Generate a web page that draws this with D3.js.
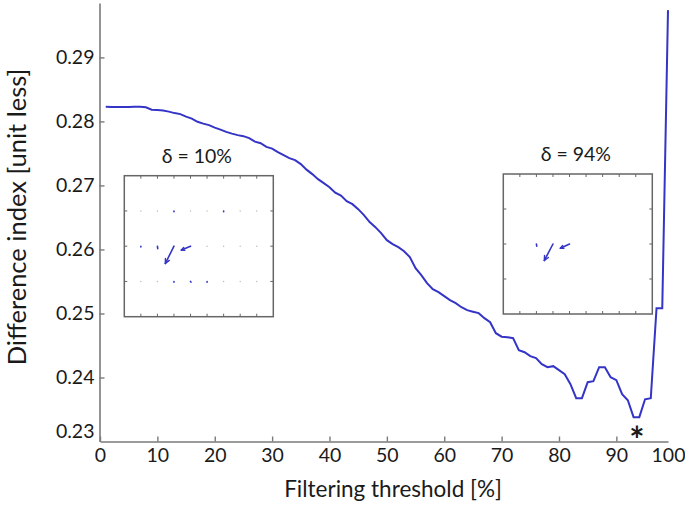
<!DOCTYPE html>
<html><head><meta charset="utf-8">
<script src="https://cdn.jsdelivr.net/npm/d3@7"></script>
<style>
body{margin:0;background:#fff}
svg{display:block}
text{font-family:Lato,"Open Sans","DejaVu Sans",sans-serif;fill:#1a1a1a}
</style>
</head><body>
<svg id="chart" width="685" height="505"></svg>
<script>
// ---------- data ----------
const thresholds = [1,2,3,4,5,6,7,8,9,10,11,12,13,14,15,16,17,18,19,20,
  21,22,23,24,25,26,27,28,29,30,31,32,33,34,35,36,37,38,39,40,
  41,42,43,44,45,46,47,48,49,50,51,52,53,54,55,56,57,58,59,60,
  61,62,63,64,65,66,67,68,69,70,71,72,73,74,75,76,77,78,79,80,
  81,82,83,84,85,86,87,88,89,90,91,92,93,94,95,96,97,98,99];
const differenceIndex = [
  0.28228,0.28226,0.28226,0.28226,0.28226,0.28228,0.28228,0.28220,0.28184,0.28177,
  0.28170,0.28153,0.28130,0.28114,0.28075,0.28044,0.27994,0.27966,0.27942,0.27903,
  0.27872,0.27837,0.27809,0.27786,0.27770,0.27739,0.27684,0.27660,0.27603,0.27575,
  0.27520,0.27473,0.27427,0.27395,0.27333,0.27247,0.27177,0.27098,0.27036,0.26973,
  0.26888,0.26841,0.26755,0.26708,0.26630,0.26536,0.26427,0.26348,0.26255,0.26145,
  0.26083,0.26036,0.25973,0.25880,0.25708,0.25598,0.25473,0.25380,0.25333,0.25270,
  0.25208,0.25161,0.25098,0.25052,0.25028,0.25005,0.24927,0.24864,0.24692,0.24637,
  0.24630,0.24614,0.24427,0.24395,0.24333,0.24302,0.24208,0.24160,0.24177,0.24114,
  0.24052,0.23895,0.23677,0.23677,0.23927,0.23942,0.24160,0.24160,0.24005,0.23958,
  0.23740,0.23645,0.23380,0.23380,0.23660,0.23677,0.25083,0.25083,0.29739];
const xTickValues = [0,10,20,30,40,50,60,70,80,90,99];
const xTickLabels = ["0","10","20","30","40","50","60","70","80","90","100"];
const yTickValues = [0.23,0.24,0.25,0.26,0.27,0.28,0.29];
const yTickLabels = ["0.23","0.24","0.25","0.26","0.27","0.28","0.29"];
const xLabel = "Filtering threshold [%]";
const yLabel = "Difference index [unit less]";
const bestThreshold = 94;
const insetTitles = ["δ = 10%", "δ = 94%"];
// quiver vectors: column, row, u (columns), v (rows, downward)
const quiverLeft = [
  {c:3,r:1,u:0,v:0.02},{c:6,r:1,u:0,v:0.02},
  {c:1,r:2,u:0,v:0.02},{c:2,r:2,u:0.02,v:0.07},{c:3,r:2,u:-0.52,v:0.49},{c:4,r:2,u:-0.55,v:0.11},
  {c:3,r:3,u:0,v:0.02},{c:4,r:3,u:0.03,v:0.02},{c:5,r:3,u:0,v:0.02}];
const quiverRight = [
  {c:2,r:2,u:0.02,v:0.06},{c:3,r:2,u:-0.52,v:0.47},{c:4,r:2,u:-0.55,v:0.12}];

// ---------- drawing ----------
const svg = d3.select("#chart");
const blue = "#3434c6";
const axisGray = "#7a7a7a";

const x = d3.scaleLinear().domain([0,99]).range([100,668]);
const y = d3.scaleLinear().domain([0.23,0.2985]).range([441.5,3]);

// axes
const gx = svg.append("g").attr("transform","translate(0,441.5)")
  .call(d3.axisBottom(x).tickValues(xTickValues)
    .tickFormat((d,i)=>xTickLabels[i]).tickSizeInner(-5).tickSizeOuter(0).tickPadding(6));
const gy = svg.append("g").attr("transform","translate(99.5,0)")
  .call(d3.axisLeft(y).tickValues(yTickValues)
    .tickFormat((d,i)=>yTickLabels[i]).tickSizeInner(-5).tickSizeOuter(0).tickPadding(5));
[gx,gy].forEach(g=>{
  g.select(".domain").attr("stroke",axisGray).attr("stroke-width",1.6);
  g.selectAll(".tick line").attr("stroke",axisGray).attr("stroke-width",1.4);
  g.selectAll(".tick text").style("font-size","19.5px").attr("fill","#1a1a1a");
});
gx.selectAll(".tick").filter(d=>d===99).select("line").remove();
gx.selectAll(".tick text").attr("dy","0.72em");
gy.selectAll(".tick").filter(d=>d===0.23).select("line").remove();
gy.selectAll(".tick").filter(d=>d===0.23).select("text").attr("dy","-0.22em");

// axis labels
svg.append("text").attr("x",393).attr("y",497).attr("text-anchor","middle")
  .style("font-size","22.5px").text(xLabel);
svg.append("text").attr("transform","translate(26,217) rotate(-90)").attr("text-anchor","middle")
  .style("font-size","25.5px").text(yLabel);

// curve
const line = d3.line().x((d,i)=>x(thresholds[i])).y(d=>y(d));
svg.append("path").datum(differenceIndex).attr("d",line)
  .attr("fill","none").attr("stroke",blue).attr("stroke-width",2).attr("stroke-linejoin","miter");

// asterisk
svg.append("text").attr("x",x(bestThreshold)-2.5).attr("y",453).attr("text-anchor","middle")
  .style("font-size","36px").style("font-weight","bold").attr("fill","#111").text("*");

// insets
function drawInset(x0,y0,w,h,title,vectors,showZeros){
  const g = svg.append("g");
  const ix = d3.scaleLinear().domain([0,9]).range([x0,x0+w]);
  const iy = d3.scaleLinear().domain([0,4]).range([y0,y0+h]);
  g.append("rect").attr("x",x0).attr("y",y0).attr("width",w).attr("height",h)
    .attr("fill","#fff").attr("stroke","#666").attr("stroke-width",1.5);
  const cols = d3.range(1,9), rows = d3.range(1,4);
  cols.forEach(c=>{
    g.append("line").attr("x1",ix(c)).attr("x2",ix(c)).attr("y1",y0).attr("y2",y0+3).attr("stroke","#666");
    g.append("line").attr("x1",ix(c)).attr("x2",ix(c)).attr("y1",y0+h).attr("y2",y0+h-3).attr("stroke","#666");
  });
  rows.forEach(r=>{
    g.append("line").attr("y1",iy(r)).attr("y2",iy(r)).attr("x1",x0).attr("x2",x0+3).attr("stroke","#666");
    g.append("line").attr("y1",iy(r)).attr("y2",iy(r)).attr("x1",x0+w).attr("x2",x0+w-3).attr("stroke","#666");
  });
  if(showZeros){
    rows.forEach(r=>cols.forEach(c=>{
      if(!vectors.some(v=>v.c===c&&v.r===r))
        g.append("circle").attr("cx",ix(c)).attr("cy",iy(r)).attr("r",0.7).attr("fill","#b8b8c8");
    }));
  }
  vectors.forEach(v=>{
    const xa=ix(v.c), ya=iy(v.r), xb=ix(v.c+v.u), yb=iy(v.r+v.v);
    g.append("line").attr("x1",xa).attr("y1",ya).attr("x2",xb).attr("y2",yb)
      .attr("stroke",blue).attr("stroke-width",1.6).attr("stroke-linecap","round");
    const len=Math.hypot(xb-xa,yb-ya);
    if(len>5){
      const ang=Math.atan2(yb-ya,xb-xa), hl=Math.min(5,len*0.35);
      [0.45,-0.45].forEach(a=>{
        g.append("line").attr("x1",xb).attr("y1",yb)
          .attr("x2",xb-hl*Math.cos(ang+a)).attr("y2",yb-hl*Math.sin(ang+a))
          .attr("stroke",blue).attr("stroke-width",1.4).attr("stroke-linecap","round");
      });
    }
  });
  g.append("text").attr("x",x0+w/2-2).attr("y",y0-13).attr("text-anchor","middle")
    .style("font-size","19.5px").text(title);
}
drawInset(124.3,175.7,149,141,insetTitles[0],quiverLeft,true);
drawInset(503.3,174,149,140,insetTitles[1],quiverRight,false);
</script>
</body></html>
